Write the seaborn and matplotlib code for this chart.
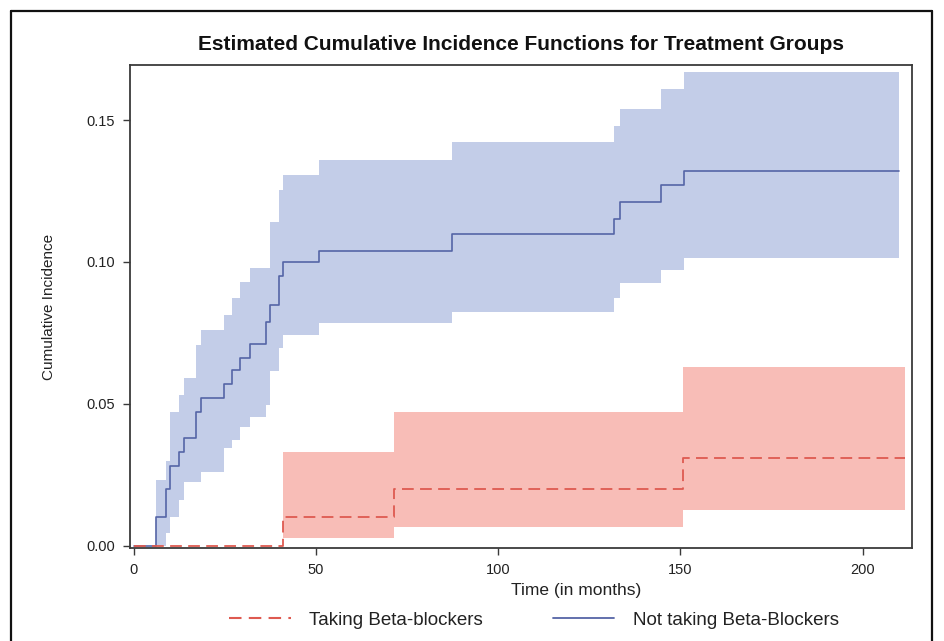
import matplotlib
matplotlib.use("Agg")
import matplotlib.pyplot as plt
from matplotlib import font_manager
from matplotlib.lines import Line2D
import seaborn as sns
import pandas as pd

# ---------------- data ----------------
# Not taking Beta-Blockers (step function, value after each event time)
blue_time = [0, 6.0, 9.0, 9.9, 12.4, 13.8, 17.0, 18.5, 24.9, 27.0, 29.3, 32.0,
             36.3, 37.5, 39.8, 41.0, 50.8, 87.3, 131.8, 133.3, 144.7, 151.0, 210.0]
blue_est = [0, 0.010, 0.020, 0.028, 0.033, 0.038, 0.047, 0.052, 0.057, 0.062, 0.066, 0.071,
            0.079, 0.085, 0.095, 0.100, 0.104, 0.110, 0.115, 0.121, 0.127, 0.132, 0.132]
blue_lo = [0, 0.000, 0.0045, 0.0103, 0.016, 0.0226, 0.0226, 0.026, 0.0345, 0.0373, 0.042, 0.0455,
           0.0497, 0.0614, 0.0696, 0.0743, 0.0784, 0.0823, 0.0872, 0.0925, 0.097, 0.1015, 0.1015]
blue_hi = [0, 0.023, 0.030, 0.047, 0.053, 0.059, 0.0708, 0.076, 0.0813, 0.0872, 0.093, 0.098,
           0.098, 0.114, 0.1254, 0.1306, 0.136, 0.1424, 0.148, 0.154, 0.1608, 0.167, 0.167]

# Taking Beta-blockers
red_time = [0, 41.0, 71.5, 150.8, 211.5]
red_est = [0, 0.010, 0.020, 0.031, 0.031]
red_lo = [0, 0.0028, 0.0067, 0.0127, 0.0127]
red_hi = [0, 0.033, 0.047, 0.063, 0.063]

x_ticks = [0, 50, 100, 150, 200]
y_ticks = [0.00, 0.05, 0.10, 0.15]
y_tick_labels = ["0.00", "0.05", "0.10", "0.15"]

title = "Estimated Cumulative Incidence Functions for Treatment Groups"
xlabel = "Time (in months)"
ylabel = "Cumulative Incidence"
label_red = "Taking Beta-blockers"
label_blue = "Not taking Beta-Blockers"

# ---------------- style ----------------
sns.set_theme(style="white")
names = {f.name for f in font_manager.fontManager.ttflist}
fam = "Liberation Sans Narrow" if "Liberation Sans Narrow" in names else "Liberation Sans"
plt.rcParams["font.family"] = [fam, "DejaVu Sans"]

BLUE_LINE = "#5565a6"
BLUE_BAND = "#c3cde8"
RED_LINE = "#de5a50"
RED_BAND = "#f8bdb7"
AX_COL = "#3a3a3a"

fig = plt.figure(figsize=(9.44, 6.41), dpi=100)
ax = fig.add_axes([130 / 944, 1 - 548 / 641, (912 - 130) / 944, (548 - 65) / 641])

blue = pd.DataFrame({"t": blue_time, "est": blue_est, "lo": blue_lo, "hi": blue_hi})
red = pd.DataFrame({"t": red_time, "est": red_est, "lo": red_lo, "hi": red_hi})

ax.fill_between(blue["t"], blue["lo"], blue["hi"], step="post", color=BLUE_BAND,
                linewidth=0, zorder=1)
ax.fill_between(red["t"], red["lo"], red["hi"], step="post", color=RED_BAND,
                linewidth=0, zorder=1)

sns.lineplot(data=blue, x="t", y="est", ax=ax, drawstyle="steps-post", estimator=None,
             color=BLUE_LINE, linewidth=1.2, zorder=3)
sns.lineplot(data=red, x="t", y="est", ax=ax, drawstyle="steps-post", estimator=None,
             color=RED_LINE, linewidth=1.3, zorder=3)
ax.lines[-1].set_dashes((6.5, 3.5))

ax.set_xlim(-1, 213.5)
ax.set_ylim(-0.0008, 0.1694)
ax.set_xticks(x_ticks)
ax.set_xticklabels([str(v) for v in x_ticks])
ax.set_yticks(y_ticks)
ax.set_yticklabels(y_tick_labels)

for s in ax.spines.values():
    s.set_color(AX_COL)
    s.set_linewidth(1.3)
ax.tick_params(axis="both", which="major", direction="out", length=5, width=1.0,
               color=AX_COL, labelsize=10.5, labelcolor="#222222", pad=6,
               bottom=True, left=True)

ax.set_title(title, fontsize=15, fontweight="bold", color="#111111", pad=11)
ax.set_xlabel(xlabel, fontsize=12.5, color="#222222")
ax.set_ylabel(ylabel, fontsize=11, color="#222222")
ax.xaxis.set_label_coords(0.57, -0.072)
ax.yaxis.set_label_coords(-0.095, 0.5)

handles = [Line2D([0], [0], color=RED_LINE, lw=1.5, dashes=(6, 3.5)),
           Line2D([0], [0], color=BLUE_LINE, lw=1.3)]
fig.legend(handles, [label_red, label_blue], loc="center", bbox_to_anchor=(534 / 944, 1 - 620 / 641),
           ncol=2, frameon=False, fontsize=13.5, handlelength=3.3, handletextpad=1.0,
           columnspacing=3.7, labelcolor="#222222")

# outer frame of the picture
for xs, ys in [([11 / 944, 11 / 944], [0, 1 - 11 / 641]),
               ([11 / 944, 932 / 944], [1 - 11 / 641, 1 - 11 / 641]),
               ([932 / 944, 932 / 944], [0, 1 - 11 / 641])]:
    fig.add_artist(Line2D(xs, ys, transform=fig.transFigure, color="#111111", lw=1.6))

fig.savefig("out.png", dpi=100, facecolor="white")
